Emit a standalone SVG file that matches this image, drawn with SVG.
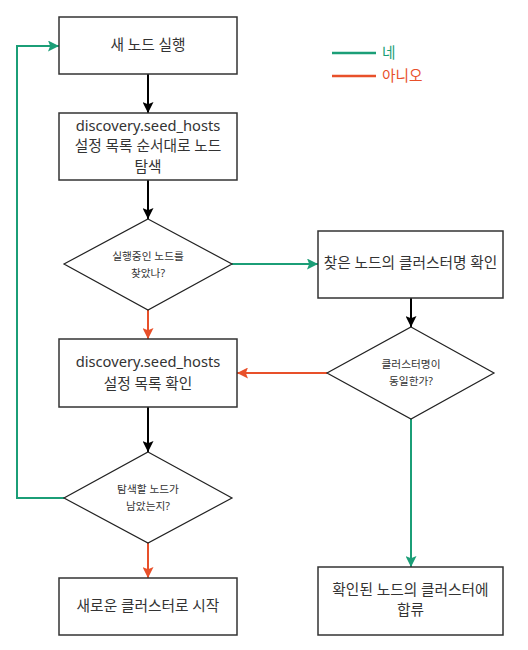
<svg xmlns="http://www.w3.org/2000/svg" width="528" height="650" viewBox="0 0 528 650">
<defs>
<style>
.box{fill:#fff;stroke:#333;stroke-width:1.5}
.dia{fill:#fff;stroke:#222;stroke-width:1.2}
text{font-family:"Noto Sans","Noto Sans CJK KR",sans-serif;fill:#333;text-anchor:middle}
.t{font-size:14.7px}
.s{font-size:10.7px}
.k{stroke:#000;stroke-width:2;fill:none}
.g{stroke:#1b9e77;stroke-width:2;fill:none}
.o{stroke:#e8502a;stroke-width:2;fill:none}
</style>
<marker id="ak" viewBox="0 0 10 10" refX="10" refY="5" markerWidth="5.5" markerHeight="5.5" orient="auto" markerUnits="strokeWidth"><path d="M0,0 L10,5 L0,10 L2,5 z" fill="#000"/></marker>
<marker id="ag" viewBox="0 0 10 10" refX="10" refY="5" markerWidth="5.5" markerHeight="5.5" orient="auto" markerUnits="strokeWidth"><path d="M0,0 L10,5 L0,10 L2,5 z" fill="#1b9e77"/></marker>
<marker id="ao" viewBox="0 0 10 10" refX="10" refY="5" markerWidth="5.5" markerHeight="5.5" orient="auto" markerUnits="strokeWidth"><path d="M0,0 L10,5 L0,10 L2,5 z" fill="#e8502a"/></marker>
</defs>
<g id="connectors">
<path class="k" d="M148,74 V113" marker-end="url(#ak)"/>
<path class="k" d="M148,180 V219" marker-end="url(#ak)"/>
<path class="o" d="M148,310 V339" marker-end="url(#ao)"/>
<path class="g" d="M232,264 H318" marker-end="url(#ag)"/>
<path class="k" d="M411,298 V327" marker-end="url(#ak)"/>
<path class="o" d="M327,373 H237" marker-end="url(#ao)"/>
<path class="g" d="M411,419 V567" marker-end="url(#ag)"/>
<path class="k" d="M148,407 V452" marker-end="url(#ak)"/>
<path class="g" d="M64,498 H17 V46 H59" marker-end="url(#ag)"/>
<path class="o" d="M148,543 V578" marker-end="url(#ao)"/>
</g>
<g id="legend">
<line x1="332" y1="53" x2="376" y2="53" stroke="#1b9e77" stroke-width="2.5"/>
<text x="382" y="58" style="font-size:14.7px;text-anchor:start;fill:#1b9e77">네</text>
<line x1="332" y1="76" x2="376" y2="76" stroke="#e8502a" stroke-width="2.5"/>
<text x="382" y="81" style="font-size:14.7px;text-anchor:start;fill:#e8502a">아니오</text>
</g>
<g id="n1"><rect class="box" x="59" y="17" width="178" height="57"/><text class="t" x="148" y="50">새 노드 실행</text></g>
<g id="n2"><rect class="box" x="59" y="113" width="178" height="67"/><text class="t" x="148" y="131">discovery.seed_hosts</text><text class="t" x="148" y="151">설정 목록 순서대로 노드</text><text class="t" x="148" y="172">탐색</text></g>
<g id="d1"><polygon class="dia" points="148,219 232,264 148,310 64,264"/><text class="s" x="148" y="260">실행중인 노드를</text><text class="s" x="148" y="277">찾았나?</text></g>
<g id="n3"><rect class="box" x="59" y="339" width="178" height="68"/><text class="t" x="148" y="367">discovery.seed_hosts</text><text class="t" x="148" y="389">설정 목록 확인</text></g>
<g id="n4"><rect class="box" x="318" y="231" width="185" height="67"/><text class="t" x="410.5" y="268">찾은 노드의 클러스터명 확인</text></g>
<g id="d2"><polygon class="dia" points="411,327 494,373 411,419 327,373"/><text class="s" x="411" y="368">클러스터명이</text><text class="s" x="411" y="385">동일한가?</text></g>
<g id="d3"><polygon class="dia" points="148,452 232,498 148,543 64,498"/><text class="s" x="148" y="493">탐색할 노드가</text><text class="s" x="148" y="510">남았는지?</text></g>
<g id="n5"><rect class="box" x="59" y="578" width="178" height="57"/><text class="t" x="148" y="611">새로운 클러스터로 시작</text></g>
<g id="n6"><rect class="box" x="318" y="567" width="185" height="68"/><text class="t" x="410.5" y="595">확인된 노드의 클러스터에</text><text class="t" x="410.5" y="615">합류</text></g>
</svg>
